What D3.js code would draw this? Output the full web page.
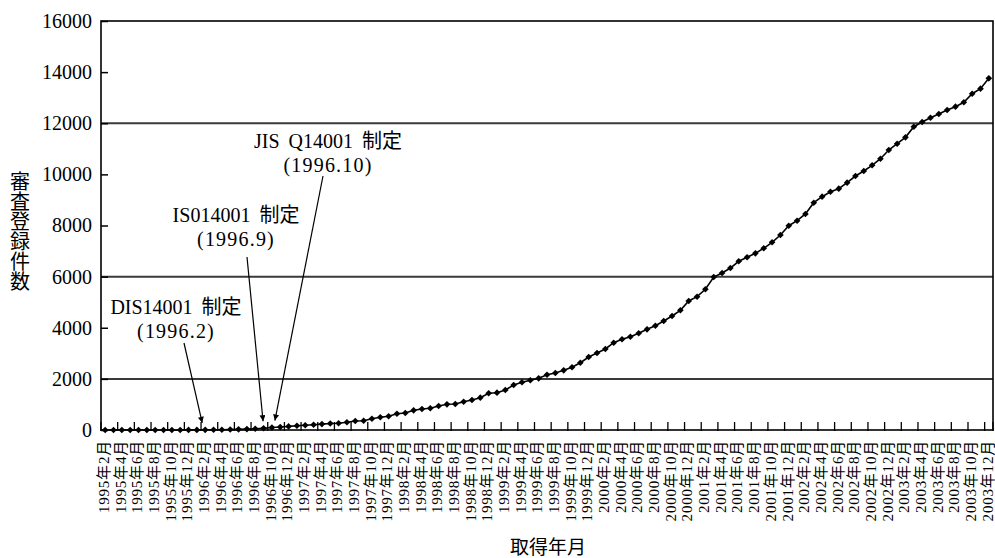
<!DOCTYPE html>
<html><head><meta charset="utf-8">
<script src="https://cdn.jsdelivr.net/npm/d3@7"></script>
<style>
html,body{margin:0;padding:0;background:#fff;}
svg{display:block;}
text{font-family:"Liberation Serif","Noto Sans CJK JP",serif;fill:#000;}
</style></head><body>
<svg id="chart" width="995" height="558"></svg>
<script>
// ---- data ----
const startYear = 1995, startMonth = 2, monthCount = 107;
const categories = [];
for (let k = 0; k < monthCount; k++) {
  const t = startMonth - 1 + k;
  categories.push(`${startYear + Math.floor(t / 12)}年${t % 12 + 1}月`);
}
const values = [
  0, 0, 0, 0, 0, 0, 1, 1, 2, 2, 3,            // 1995/2 - 1995/12
  4, 6, 8, 12, 18, 25, 35, 50, 70, 95, 115, 140, // 1996
  165, 185, 205, 230, 255, 265, 301, 352, 364, 442, 497, 536, // 1997
  637, 665, 770, 821, 849, 939, 1005, 1017, 1107, 1174, 1264, 1436, // 1998
  1460, 1565, 1760, 1866, 1944, 2022, 2163, 2230, 2335, 2453, 2633, 2856, // 1999
  3012, 3169, 3415, 3548, 3650, 3783, 3939, 4080, 4264, 4460, 4683, 5046, // 2000
  5215, 5504, 5985, 6142, 6337, 6600, 6756, 6912, 7108, 7343, 7628, 7992, // 2001
  8188, 8450, 8892, 9127, 9322, 9440, 9675, 9936, 10132, 10355, 10613, 10954, // 2002
  11200, 11450, 11865, 12049, 12217, 12362, 12518, 12648, 12820, 13156, 13352, 13758 // 2003
];
const yTicks = [0, 2000, 4000, 6000, 8000, 10000, 12000, 14000, 16000];
const gridValues = [2000, 6000, 12000];
const tickLabels = categories.filter((d, i) => i % 2 === 0);
const annTitles = ["DIS14001 制定", "IS014001 制定", "JIS Q14001 制定"];
const annDates  = ["(1996.2)", "(1996.9)", "(1996.10)"];
const annMonths = ["1996年2月", "1996年9月", "1996年10月"];
const yTitle = "審査登録件数";
const xTitle = "取得年月";

// ---- layout ----
const L = 101, T = 21, R = 993, B = 430;
const svg = d3.select("#chart");
const x = d3.scaleBand().domain(categories).range([L, R]).padding(0);
const y = d3.scaleLinear().domain([0, 16000]).range([B, T]);
const cx = c => x(c) + x.bandwidth() / 2;

// gridlines
svg.append("g").selectAll("line").data(gridValues).join("line")
  .attr("x1", L).attr("x2", R).attr("y1", d => y(d)).attr("y2", d => y(d))
  .attr("stroke", "#3a3a3a").attr("stroke-width", 2);

// y axis
const yAxis = svg.append("g").attr("transform", `translate(${L},0)`)
  .call(d3.axisLeft(y).tickValues(yTicks).tickSize(-7).tickPadding(9).tickFormat(d3.format("d")));
yAxis.select(".domain").remove();
yAxis.selectAll(".tick line").attr("stroke", "#000").attr("stroke-width", 1.5);
yAxis.selectAll(".tick text").attr("font-size", 20).attr("font-family", null);

// x axis ticks (between categories, every 2)
const tickPos = categories.filter((d, i) => i % 2 === 0).map(c => x(c)).concat([R]);
svg.append("g").selectAll("line").data(tickPos).join("line")
  .attr("x1", d => d).attr("x2", d => d).attr("y1", B - 8).attr("y2", B + 1)
  .attr("stroke", "#000").attr("stroke-width", 1.3);

// x tick labels
svg.append("g").selectAll("text").data(tickLabels).join("text")
  .attr("transform", d => `translate(${cx(d)},${B + 10}) rotate(-90)`)
  .attr("text-anchor", "end").attr("dy", "0.25em").attr("font-size", 15)
  .style("letter-spacing", "0.8px")
  .text(d => d);

// plot box
svg.append("rect").attr("x", L).attr("y", T).attr("width", R - L).attr("height", B - T)
  .attr("fill", "none").attr("stroke", "#000").attr("stroke-width", 1.6);

// line
const pts = categories.map((c, i) => ({ c, v: values[i] }));
svg.append("path").datum(pts)
  .attr("fill", "none").attr("stroke", "#000").attr("stroke-width", 1.6)
  .attr("d", d3.line().x(d => cx(d.c)).y(d => y(d.v)));

// markers
const sym = d3.symbol(d3.symbolSquare, 22);
svg.append("g").selectAll("path").data(pts).join("path")
  .attr("d", sym())
  .attr("transform", d => `translate(${cx(d.c)},${y(d.v)}) rotate(45)`)
  .attr("fill", "#000");

// annotations
const defs = svg.append("defs");
defs.append("marker").attr("id", "ah").attr("viewBox", "0 0 10 10")
  .attr("refX", 10).attr("refY", 5).attr("markerWidth", 12).attr("markerHeight", 6)
  .attr("markerUnits", "userSpaceOnUse").attr("orient", "auto")
  .append("path").attr("d", "M0,0 L10,5 L0,10 Z").attr("fill", "#000");

const annLayout = [
  { tx: 176, ty: 307, tail: [184, 343], tipDx: -3 },
  { tx: 236, ty: 215, tail: [247, 257], tipDx: -0.5 },
  { tx: 328, ty: 141, tail: [323, 176], tipDx: 3 }
];
annTitles.forEach((t, i) => {
  const lay = annLayout[i];
  const m = annMonths[i];
  const v = values[categories.indexOf(m)];
  const g = svg.append("g");
  g.append("text").attr("x", lay.tx).attr("y", lay.ty).attr("dy", "0.35em")
    .attr("text-anchor", "middle").attr("font-size", 20).style("word-spacing", "4px").text(t);
  g.append("text").attr("x", lay.tx).attr("y", lay.ty + 24).attr("dy", "0.35em")
    .attr("text-anchor", "middle").attr("font-size", 20).style("letter-spacing", "1.2px").text(annDates[i]);
  g.append("line").attr("x1", lay.tail[0]).attr("y1", lay.tail[1])
    .attr("x2", cx(m) + lay.tipDx).attr("y2", y(v) - 7)
    .attr("stroke", "#000").attr("stroke-width", 1.2).attr("marker-end", "url(#ah)");
});

// axis titles
const yt = svg.append("text").attr("font-size", 20).attr("text-anchor", "middle");
Array.from(yTitle).forEach((ch, i) => {
  yt.append("tspan").attr("x", 20).attr("y", 182 + i * 20).attr("dy", "0.35em").text(ch);
});
svg.append("text").attr("x", 548).attr("y", 547).attr("dy", "0.35em")
  .attr("text-anchor", "middle").attr("font-size", 19).text(xTitle);
</script>
</body></html>
